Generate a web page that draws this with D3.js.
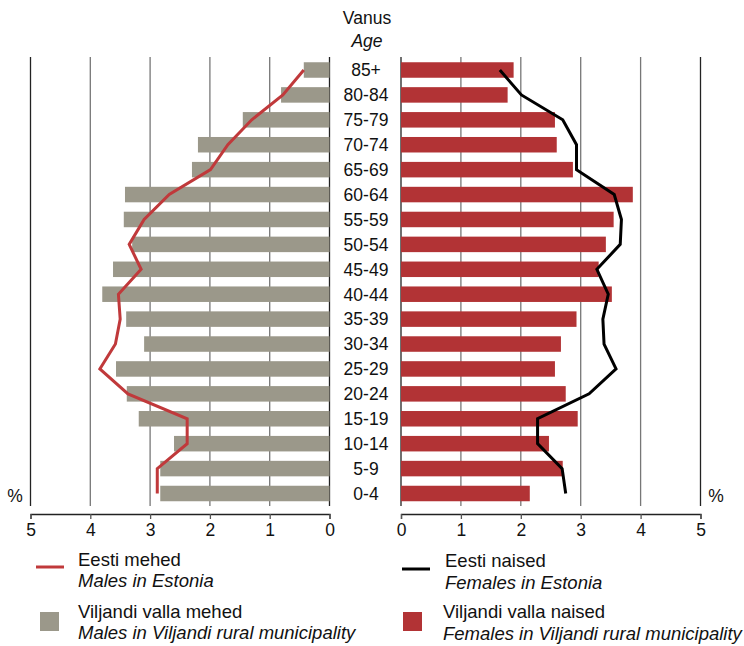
<!DOCTYPE html>
<html><head><meta charset="utf-8">
<script src="https://cdn.jsdelivr.net/npm/d3@7"></script>
<style>body{margin:0;background:#fff}svg{display:block;font-family:"Liberation Sans",Arial,sans-serif}</style>
</head><body><svg id="c" width="744" height="646"></svg>
<script>
const ages = ["85+","80-84","75-79","70-74","65-69","60-64","55-59","50-54","45-49","40-44","35-39","30-34","25-29","20-24","15-19","10-14","5-9","0-4"];
const malesViljandi = [0.43,0.81,1.45,2.20,2.30,3.42,3.44,3.30,3.62,3.80,3.40,3.10,3.57,3.39,3.19,2.60,2.83,2.83];
const malesEstonia = [0.43,0.78,1.30,1.70,1.99,2.68,3.10,3.35,3.15,3.53,3.50,3.58,3.84,3.37,2.38,2.38,2.88,2.88];
const femalesViljandi = [1.88,1.78,2.57,2.60,2.87,3.87,3.55,3.42,3.30,3.52,2.93,2.67,2.57,2.75,2.95,2.47,2.70,2.15];
const femalesEstonia = [1.65,2.01,2.70,2.93,2.93,3.56,3.68,3.66,3.27,3.46,3.37,3.39,3.59,3.14,2.28,2.28,2.69,2.75];
const ticks = [0,1,2,3,4,5];

const svg = d3.select("#c");
const grey = "#9b988a", redBar = "#b23335", redLine = "#c0393b";
const xL = d3.scaleLinear().domain([0,5]).range([329.5,30.5]);
const xR = d3.scaleLinear().domain([0,5]).range([401,700.5]);
const y = d3.scalePoint().domain(ages).range([70,493.5]);
const bh = 15.5, gTop = 57, gBot = 506, axisY = 514;
const fs = 17.5, lfs = 18.5;

// gridlines
function grid(x){
  svg.append("g").selectAll("line").data(ticks).join("line")
    .attr("x1",d=>x(d)).attr("x2",d=>x(d)).attr("y1",gTop).attr("y2",gBot)
    .attr("stroke",d=>(d===5||d===0)?"#222":"#777").attr("stroke-width",1.3);
}
grid(xL); grid(xR);

// bars
svg.append("g").selectAll("rect").data(ages).join("rect")
  .attr("x",(d,i)=>xL(malesViljandi[i])).attr("width",(d,i)=>xL(0)-xL(malesViljandi[i]))
  .attr("y",d=>y(d)-bh/2).attr("height",bh).attr("fill",grey);
svg.append("g").selectAll("rect").data(ages).join("rect")
  .attr("x",xR(0)).attr("width",(d,i)=>xR(femalesViljandi[i])-xR(0))
  .attr("y",d=>y(d)-bh/2).attr("height",bh).attr("fill",redBar);

// lines
svg.append("path").datum(ages).attr("fill","none").attr("stroke",redLine).attr("stroke-width",3)
  .attr("d",d3.line().x((d,i)=>xL(malesEstonia[i])).y(d=>y(d)));
svg.append("path").datum(ages).attr("fill","none").attr("stroke","#000").attr("stroke-width",3)
  .attr("d",d3.line().x((d,i)=>xR(femalesEstonia[i])).y(d=>y(d)));

// axes
function axis(x){
  const g = svg.append("g").attr("transform",`translate(0,${axisY})`)
    .call(d3.axisBottom(x).tickValues(ticks).tickFormat(d3.format("d")).tickSizeOuter(0).tickSize(5).tickPadding(5));
  g.select(".domain").attr("stroke","#222").attr("stroke-width",1.3);
  g.selectAll(".tick line").attr("stroke","#555").attr("stroke-width",1.3);
  g.selectAll("text").attr("font-size",fs).attr("fill","#111").attr("font-family","Liberation Sans, Arial, sans-serif");
}
axis(xL); axis(xR);

// age labels
svg.append("g").selectAll("text").data(ages).join("text")
  .attr("x",366).attr("y",d=>y(d)).attr("dy","0.36em").attr("text-anchor","middle")
  .attr("font-size",fs).attr("fill","#111").text(d=>d);
svg.append("text").attr("x",367).attr("y",24).attr("text-anchor","middle").attr("font-size",fs).attr("fill","#111").text("Vanus");
svg.append("text").attr("x",367).attr("y",47).attr("text-anchor","middle").attr("font-size",fs).attr("font-style","italic").attr("fill","#111").text("Age");
svg.append("text").attr("x",15).attr("y",502).attr("text-anchor","middle").attr("font-size",fs).attr("fill","#111").text("%");
svg.append("text").attr("x",716).attr("y",502).attr("text-anchor","middle").attr("font-size",fs).attr("fill","#111").text("%");

// legend
const legend = [
  {type:"line",color:redLine,x:36,y:567,tx:78,l1:"Eesti mehed",l2:"Males in Estonia",ty:565.5},
  {type:"line",color:"#000",x:402,y:569,tx:445,l1:"Eesti naised",l2:"Females in Estonia",ty:567},
  {type:"rect",color:grey,x:40,y:612,tx:78,l1:"Viljandi valla mehed",l2:"Males in Viljandi rural municipality",ty:617.5},
  {type:"rect",color:redBar,x:403,y:612,tx:443,l1:"Viljandi valla naised",l2:"Females in Viljandi rural municipality",ty:618}
];
legend.forEach(l=>{
  if(l.type==="line") svg.append("line").attr("x1",l.x).attr("x2",l.x+28).attr("y1",l.y).attr("y2",l.y).attr("stroke",l.color).attr("stroke-width",3);
  else svg.append("rect").attr("x",l.x).attr("y",l.y).attr("width",19).attr("height",19).attr("fill",l.color);
  svg.append("text").attr("x",l.tx).attr("y",l.ty).attr("font-size",lfs).attr("fill","#111").text(l.l1);
  svg.append("text").attr("x",l.tx).attr("y",l.ty+21.5).attr("font-size",lfs).attr("font-style","italic").attr("fill","#111").text(l.l2);
});
</script></body></html>
